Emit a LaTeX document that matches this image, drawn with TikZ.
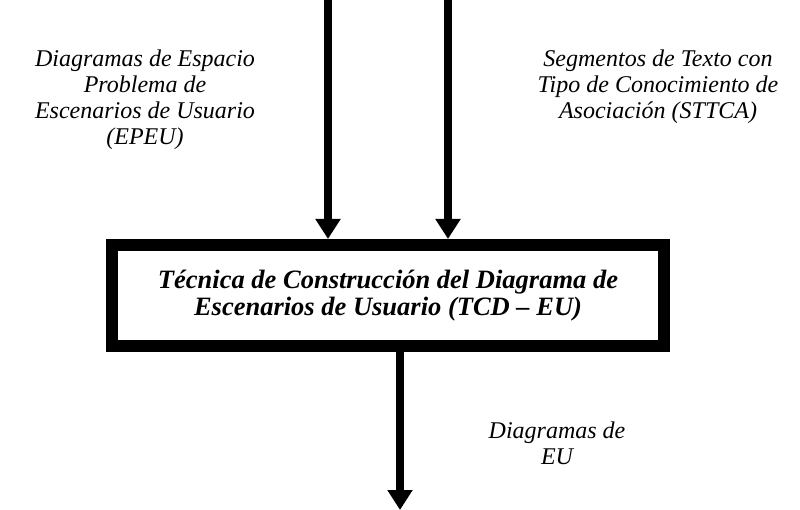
\documentclass[tikz,border=0pt]{standalone}
\usepackage{fontspec}
\setmainfont{Liberation Serif}
\usetikzlibrary{positioning,
                arrows.meta}                % arrow tips

\tikzset{
  flow/.style={line width=8pt, -{Triangle[length=20pt,width=24pt]}},
  lbl/.style={align=center, font=\fontsize{24}{26}\selectfont\itshape},
}

\begin{document}
\begin{tikzpicture}[x=1pt, y=-1pt]
        \useasboundingbox (0,0) rectangle (800,510);
        \node[draw, line width=12pt, minimum width=552pt, minimum height=101pt,
              align=center, font=\fontsize{26.5}{27}\selectfont\bfseries\itshape]
              (tcd) at (388,295.5)
              {Técnica de Construcción del Diagrama de\\Escenarios de Usuario (TCD -- EU)};
        \coordinate (epeuIn) at (328,0);
        \coordinate (sttcaIn) at (448,0);
        \coordinate (euOut) at (400,510);
        \draw[flow] (epeuIn) -- (epeuIn |- tcd.north);
        \draw[flow] (sttcaIn) -- (sttcaIn |- tcd.north);
        \draw[flow] (euOut |- tcd.south) -- (euOut);
        \node[lbl] (epeu) at (145,100)
              {Diagramas de Espacio\\Problema de\\Escenarios de Usuario\\(EPEU)};
        \node[lbl] (sttca) at (658,87)
              {Segmentos de Texto con\\Tipo de Conocimiento de\\Asociación (STTCA)};
        \node[lbl] (eu) at (557,443) {Diagramas de\\EU};
\end{tikzpicture}
\end{document}
